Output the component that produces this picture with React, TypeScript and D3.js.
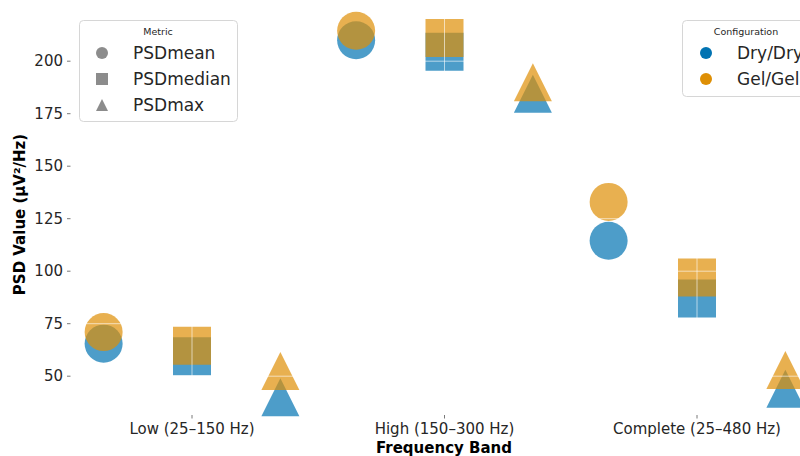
import React from "react";
import * as d3 from "d3";

const categories = ["Low (25–150 Hz)", "High (150–300 Hz)", "Complete (25–480 Hz)"];
const metrics = ["PSDmean", "PSDmedian", "PSDmax"];
const configs = ["Dry/Dry", "Gel/Gel"];
const dryValues = [
  [65.5, 59.5, 40],
  [210, 204.5, 184.5],
  [114.5, 87, 44],
];
const gelValues = [
  [71, 64.5, 52.5],
  [214.5, 211, 190],
  [133, 97, 53],
];
const yTicks = [50, 75, 100, 125, 150, 175, 200];
const colors = ["#0173b2", "#de8f05"];

const W = 800;
const H = 456;
const FONT = "DejaVu Sans, sans-serif";

function markerPath(metricIdx: number, cx: number, cy: number, s: number) {
  const h = s / 2;
  if (metricIdx === 0) {
    return `M${cx - h},${cy}a${h},${h} 0 1,0 ${s},0a${h},${h} 0 1,0 ${-s},0Z`;
  }
  if (metricIdx === 1) {
    return `M${cx - h},${cy - h}h${s}v${s}h${-s}Z`;
  }
  return `M${cx},${cy - h}L${cx + h},${cy + h}L${cx - h},${cy + h}Z`;
}

export default function App() {
  const x = d3.scaleLinear().domain([0, 2]).range([192, 697]);
  const step = x(1) - x(0);
  const offsets = [-0.35, 0, 0.35];
  const y = d3.scaleLinear().domain([32, 222]).range([414, 15]);
  const series = [dryValues, gelValues];
  const size = 38;

  const marks: React.ReactNode[] = [];
  series.forEach((vals, si) => {
    categories.forEach((_, ci) => {
      metrics.forEach((_, mi) => {
        const cx = x(ci) + offsets[mi] * step;
        const cy = y(vals[ci][mi]);
        marks.push(
          <path
            key={`${si}-${ci}-${mi}`}
            d={markerPath(mi, cx, cy, size)}
            fill={colors[si]}
            fillOpacity={0.7}
          />
        );
      });
    });
  });

  return (
    <svg
      width={W}
      height={H}
      style={{ position: "absolute", left: 0, top: 0, background: "#fff" }}
      fontFamily={FONT}
    >
      <rect width={W} height={H} fill="#fff" />
      {marks}
      {/* grid lines drawn over markers */}
      {yTicks.map((t) => (
        <line key={`gy${t}`} x1={71} x2={W} y1={y(t)} y2={y(t)} stroke="#fff" strokeOpacity={0.6} strokeWidth={1} />
      ))}
      {categories.map((_, i) => (
        <line key={`gx${i}`} x1={x(i)} x2={x(i)} y1={15} y2={414} stroke="#fff" strokeOpacity={0.6} strokeWidth={1} />
      ))}
      {/* y ticks */}
      {yTicks.map((t) => (
        <g key={`yt${t}`}>
          <line x1={67} x2={70.5} y1={y(t)} y2={y(t)} stroke="#555" strokeWidth={0.8} />
          <text x={63} y={y(t)} dy="0.35em" textAnchor="end" fontSize={15} fill="#262626">
            {t}
          </text>
        </g>
      ))}
      {/* x ticks */}
      {categories.map((c, i) => (
        <g key={`xt${i}`}>
          <line x1={x(i)} x2={x(i)} y1={415} y2={418.5} stroke="#555" strokeWidth={0.8} />
          <text x={x(i)} y={434} textAnchor="middle" fontSize={15} fill="#262626">
            {c}
          </text>
        </g>
      ))}
      <text x={444} y={453} textAnchor="middle" fontSize={15} fontWeight="bold" fill="#000">
        Frequency Band
      </text>
      <text
        transform={`translate(25,${(15 + 414) / 2}) rotate(-90)`}
        textAnchor="middle"
        fontSize={15}
        fontWeight="bold"
        fill="#000"
      >
        PSD Value (µV²/Hz)
      </text>

      {/* Metric legend */}
      <rect x={79.5} y={20.5} width={158} height={101} rx={4} fill="#fff" fillOpacity={0.8} stroke="#d6d6d6" />
      <text x={158} y={32} dy="0.35em" textAnchor="middle" fontSize={9.5} fill="#262626">
        Metric
      </text>
      {metrics.map((m, i) => (
        <g key={`lm${i}`}>
          <path d={markerPath(i, 102, 53 + i * 26, 12)} fill="#808080" fillOpacity={0.9} />
          <text x={133} y={53 + i * 26} dy="0.35em" fontSize={17} fill="#262626">
            {m}
          </text>
        </g>
      ))}

      {/* Configuration legend */}
      <rect x={682.5} y={20.5} width={140} height={76} rx={4} fill="#fff" fillOpacity={0.8} stroke="#d6d6d6" />
      <text x={746} y={32} dy="0.35em" textAnchor="middle" fontSize={9.5} fill="#262626">
        Configuration
      </text>
      {configs.map((c, i) => (
        <g key={`lc${i}`}>
          <circle cx={706} cy={53 + i * 26} r={6} fill={colors[i]} />
          <text x={737} y={53 + i * 26} dy="0.35em" fontSize={17} fill="#262626">
            {c}
          </text>
        </g>
      ))}
    </svg>
  );
}
